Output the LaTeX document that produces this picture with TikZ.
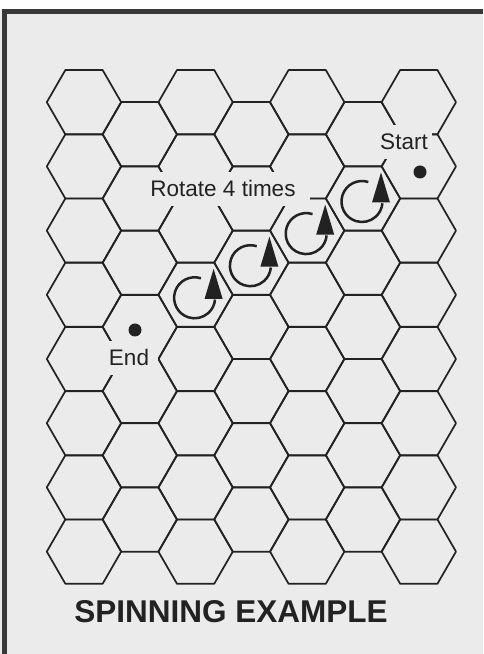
\documentclass[tikz,border=0pt]{standalone}
\usepackage{fontspec}
\setmainfont{Liberation Sans}
\usepackage{tikz}
\usetikzlibrary{calc}

\definecolor{paper}{HTML}{EBEBEB}
\definecolor{ink}{HTML}{222222}

\begin{document}
\begin{tikzpicture}[x=1pt, y=1pt,
    hexline/.style={draw=ink, line width=1.7pt, line join=round},
    lbl/.style={fill=paper, text=ink, font=\fontsize{22.5}{27}\selectfont, text height=16pt, text depth=0pt, inner xsep=4pt, inner ysep=9pt},
    dot/.style={circle, fill=ink, minimum size=13pt, inner sep=0pt}]

    \useasboundingbox (0,0) rectangle (483,654);
    \fill[paper] (0,0) rectangle (483,654);
    \fill[white!95!paper] (0,645) rectangle (483,654);
    \fill[ink!90] (2,0) rectangle (7,645);
    \fill[ink!90] (2,640) rectangle (483,645);

    % the board
    \foreach \c in {0,2,4,6}
        \foreach \r in {0,...,7}
            \coordinate (h-\c-\r) at ({84+55.8*\c}, {551.8-64.2*\r});
    \foreach \c in {1,3,5}
        \foreach \r in {0,...,6}
            \coordinate (h-\c-\r) at ({84+55.8*\c}, {519.7-64.2*\r});
    \foreach \c/\n in {0/7,1/6,2/7,3/6,4/7,5/6,6/7}
        \foreach \r in {0,...,\n}
            \draw [hexline] (h-\c-\r) ++(37.2,0) -- ++(120:37.2) -- ++(180:37.2)
                -- ++(240:37.2) -- ++(300:37.2) -- ++(0:37.2) -- cycle;

    % labels
    \node [lbl, inner xsep=14pt, anchor=base] (rotate) at (223,457) {Rotate 4 times};
    \node [lbl, anchor=base] (startlbl) at (404,504) {Start};
    \node [lbl, inner xsep=9pt, anchor=base] (endlbl) at (129,288) {End};

    \node [dot] (start) at (420,482) {};
    \node [dot] (end) at (135,324) {};

    % spins
    \foreach \c/\r in {5/1, 4/2, 3/2, 2/3} {
        \coordinate (spin-\c-\r) at ($(h-\c-\r)+(-1,-3)$);
        \draw [ink, line width=2.5pt] (spin-\c-\r) ++(72:20.5) arc [start angle=72, end angle=355, radius=20.5];
        \fill [ink] ($(spin-\c-\r)+(19,29)$) -- ($(spin-\c-\r)+(10,-1)$) -- ($(spin-\c-\r)+(28,-1)$) -- cycle;
    }

    \node [anchor=base, font=\fontsize{31.5}{36}\selectfont\bfseries, text=ink] (title) at (231,31) {SPINNING EXAMPLE};
\end{tikzpicture}
\end{document}
